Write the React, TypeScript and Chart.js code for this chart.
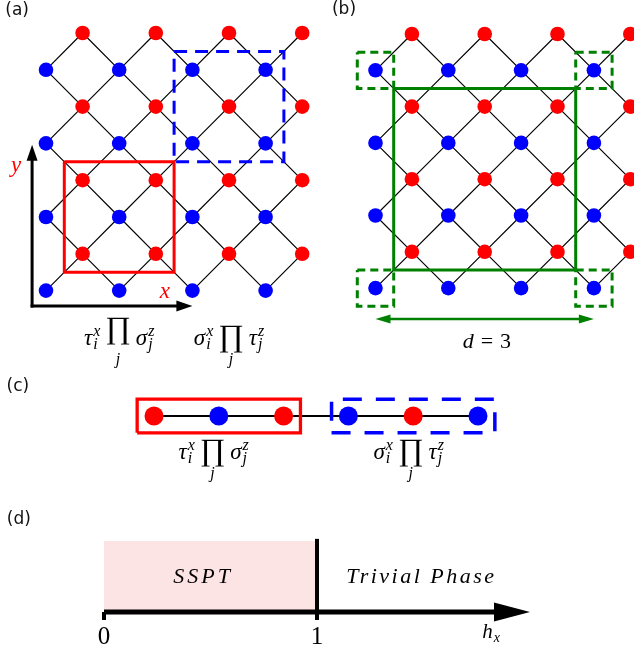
import { useEffect, useRef } from 'react';
import { Chart, registerables } from 'chart.js';

Chart.register(...registerables);

const W = 634;
const H = 651;
const SERIF = "'Liberation Serif', 'DejaVu Serif', serif";
const SANS = "'DejaVu Sans', sans-serif";
const RED = '#ff0000';
const BLUE = '#0000ff';
const GREEN = '#008000';

// (a), (b): checkerboard lattice, sites as column / row indices
const redCols = [1, 3, 5, 7];
const redRows = [0, 2, 4, 6];
const blueCols = [0, 2, 4, 6];
const blueRows = [1, 3, 5, 7];

// boxes [c0, c1, r0, r1] in lattice units
const boxRedA = [0.5, 3.5, 3.5, 6.5];
const boxBlueA = [3.5, 6.5, 0.5, 3.5];
const boxLoopB = [0.5, 5.5, 1.5, 6.5];
const boxCornersB = [
  [-0.5, 0.5, 0.5, 1.5],
  [5.5, 6.5, 0.5, 1.5],
  [-0.5, 0.5, 6.5, 7.5],
  [5.5, 6.5, 6.5, 7.5],
];
const distanceSpan = [0, 6];
const distanceLabel = ['d', '=', '3'];

// (c): 1D chain
const chainRed = [0, 2, 4];
const chainBlue = [1, 3, 5];
const boxRedC = [-0.26, 2.26, -0.26, 0.26];
const boxBlueC = [2.74, 5.26, -0.26, 0.26];

// (d): phase diagram along h_x
const hxTicks = [0, 1];
const hxTickLabels = ['0', '1'];
const hxCritical = 1;
const hxMax = 2;
const phaseNames = ['SSPT', 'Trivial Phase'];

// maps a panel's own units onto the canvas
const across = (origin: number, unit: number, size: number) => ({ min: -origin / unit, max: (size - origin) / unit });
const upward = (origin: number, unit: number, size: number) => ({ min: (origin - size) / unit, max: origin / unit });

const grid = (cols: number[], rows: number[]) => rows.flatMap((r) => cols.map((c) => ({ x: c, y: r })));
const redSites = grid(redCols, redRows);
const blueSites = grid(blueCols, blueRows);

function bonds(red: { x: number; y: number }[], blue: { x: number; y: number }[]) {
  const out: { x: number; y: number }[] = [];
  red.forEach((p) =>
    blue.forEach((q) => {
      if (Math.abs(p.x - q.x) === 1 && Math.abs(p.y - q.y) === 1) out.push(p, q, { x: NaN, y: NaN });
    })
  );
  return out;
}

const rect = (b: number[]) => [
  { x: b[0], y: b[2] },
  { x: b[1], y: b[2] },
  { x: b[1], y: b[3] },
  { x: b[0], y: b[3] },
  { x: b[0], y: b[2] },
];

const siteSet = (p: string, data: any[], color: string, r: number) => ({
  type: 'scatter',
  data,
  xAxisID: 'x' + p,
  yAxisID: 'y' + p,
  pointRadius: r,
  pointBackgroundColor: color,
  pointBorderColor: color,
  pointBorderWidth: 0,
  showLine: false,
  order: 0,
});

const lineSet = (p: string, data: any[], color: string, width: number, dash: number[] = [], order = 1) => ({
  type: 'line',
  data,
  xAxisID: 'x' + p,
  yAxisID: 'y' + p,
  borderColor: color,
  borderWidth: width,
  borderDash: dash,
  pointRadius: 0,
  fill: false,
  spanGaps: false,
  tension: 0,
  order,
});

type Tok = { sym?: string; up?: string; big?: string; sup?: string; sub?: string; under?: string };
const opTauSigma: Tok[] = [{ sym: 'τ', sup: 'x', sub: 'i' }, { big: '∏', under: 'j' }, { sym: 'σ', sup: 'z', sub: 'j' }];
const opSigmaTau: Tok[] = [{ sym: 'σ', sup: 'x', sub: 'i' }, { big: '∏', under: 'j' }, { sym: 'τ', sup: 'z', sub: 'j' }];

function drawMath(ctx: CanvasRenderingContext2D, toks: Tok[], cx: number, base: number, size = 23, gap = 5, color = '#000') {
  const main = `italic ${size}px ${SERIF}`;
  const upright = `${size}px ${SERIF}`;
  const scr = `italic ${Math.round(size * 0.68)}px ${SERIF}`;
  ctx.font = `30px ${SERIF}`;
  const pm = ctx.measureText('∏');
  const k = 28 / (pm.actualBoundingBoxAscent + pm.actualBoundingBoxDescent);
  const bigSize = Math.round(30 * k);
  const bigDesc = (pm.actualBoundingBoxDescent * bigSize) / 30;
  const widths = toks.map((t) => {
    if (t.big) {
      ctx.font = `${bigSize}px ${SERIF}`;
      const w = ctx.measureText(t.big).width;
      ctx.font = scr;
      return Math.max(w, ctx.measureText(t.under || '').width);
    }
    ctx.font = t.up ? upright : main;
    const w = ctx.measureText((t.sym ?? t.up) as string).width;
    ctx.font = scr;
    const ws = Math.max(t.sup ? ctx.measureText(t.sup).width : 0, t.sub ? ctx.measureText(t.sub).width : 0);
    return w + (ws ? ws + 1 : 0);
  });
  const total = widths.reduce((a, b) => a + b, 0) + gap * (toks.length - 1);
  let x = cx - total / 2;
  ctx.fillStyle = color;
  ctx.textBaseline = 'alphabetic';
  toks.forEach((t, i) => {
    if (t.big) {
      ctx.font = `${bigSize}px ${SERIF}`;
      ctx.textAlign = 'center';
      ctx.fillText(t.big, x + widths[i] / 2, base + 8 - bigDesc);
      if (t.under) {
        ctx.font = scr;
        ctx.fillText(t.under, x + widths[i] / 2, base + 19);
      }
    } else {
      ctx.textAlign = 'left';
      ctx.font = t.up ? upright : main;
      const s = (t.sym ?? t.up) as string;
      ctx.fillText(s, x, base);
      const w = ctx.measureText(s).width + 1;
      ctx.font = scr;
      if (t.sup) ctx.fillText(t.sup, x + w, base - 9);
      if (t.sub) ctx.fillText(t.sub, x + w, base + 4);
    }
    x += widths[i] + gap;
  });
}

function drawArrow(
  ctx: CanvasRenderingContext2D,
  x0: number, y0: number, x1: number, y1: number,
  color: string, width: number, len: number, half: number, both: boolean, cap: CanvasLineCap
) {
  const L = Math.hypot(x1 - x0, y1 - y0);
  const ux = (x1 - x0) / L;
  const uy = (y1 - y0) / L;
  ctx.strokeStyle = color;
  ctx.fillStyle = color;
  ctx.lineWidth = width;
  ctx.lineCap = cap;
  ctx.setLineDash([]);
  ctx.beginPath();
  ctx.moveTo(both ? x0 + ux * len * 0.8 : x0, both ? y0 + uy * len * 0.8 : y0);
  ctx.lineTo(x1 - ux * len * 0.8, y1 - uy * len * 0.8);
  ctx.stroke();
  const head = (tx: number, ty: number, dx: number, dy: number) => {
    const bx = tx - dx * len;
    const by = ty - dy * len;
    ctx.beginPath();
    ctx.moveTo(tx, ty);
    ctx.lineTo(bx - dy * half, by + dx * half);
    ctx.lineTo(bx + dy * half, by - dx * half);
    ctx.closePath();
    ctx.fill();
  };
  head(x1, y1, ux, uy);
  if (both) head(x0, y0, -ux, -uy);
}

const overlay = {
  id: 'overlay',
  afterDatasetsDraw(chart: any) {
    const ctx: CanvasRenderingContext2D = chart.ctx;
    const s = chart.scales;
    const P = (p: string, x: number, y: number) => [s['x' + p].getPixelForValue(x), s['y' + p].getPixelForValue(y)];
    ctx.save();

    // panel tags
    ctx.font = `17px ${SANS}`;
    ctx.fillStyle = '#111';
    ctx.textAlign = 'center';
    ctx.textBaseline = 'middle';
    ([['a', -0.79, -0.62, '(a)'], ['b', -0.865, -0.66, '(b)'], ['c', -2.1, 0.46, '(c)'], ['d', -0.4, 1.3, '(d)']] as any[]).forEach(
      ([p, x, y, t]) => {
        const [px, py] = P(p, x, y);
        ctx.fillText(t, px, py);
      }
    );

    // arrows
    let [ax, ay] = P('a', -0.38, 7.42);
    let [bx, by] = P('a', -0.38, 3.04);
    drawArrow(ctx, ax, ay, bx, by, '#000', 3, 16, 5.5, false, 'square');
    [bx, by] = P('a', 4.0, 7.42);
    drawArrow(ctx, ax, ay, bx, by, '#000', 3, 16, 5.5, false, 'square');
    [ax, ay] = P('b', distanceSpan[0], 7.85);
    [bx, by] = P('b', distanceSpan[1], 7.85);
    drawArrow(ctx, ax, ay, bx, by, GREEN, 2.6, 15, 4.5, true, 'butt');
    [ax, ay] = P('d', hxTicks[0], 0);
    [bx, by] = P('d', hxMax, 0);
    drawArrow(ctx, ax, ay, bx, by, '#000', 5, 36, 9.5, false, 'butt');

    // axis letters in (a)
    ctx.font = `italic 23px ${SERIF}`;
    ctx.fillStyle = RED;
    ctx.textAlign = 'center';
    ctx.textBaseline = 'middle';
    let [tx, ty] = P('a', -0.82, 3.6);
    ctx.fillText('y', tx, ty);
    [tx, ty] = P('a', 3.25, 7.05);
    ctx.fillText('x', tx, ty);

    // operators
    [tx, ty] = P('a', 2, 8.48);
    drawMath(ctx, opTauSigma, tx, ty);
    [tx, ty] = P('a', 5, 8.48);
    drawMath(ctx, opSigmaTau, tx, ty);
    [tx, ty] = P('c', 0.92, -0.66);
    drawMath(ctx, opTauSigma, tx, ty);
    [tx, ty] = P('c', 3.93, -0.66);
    drawMath(ctx, opSigmaTau, tx, ty);
    [tx, ty] = P('b', 3.06, 8.65);
    drawMath(ctx, [{ sym: distanceLabel[0] }, { up: distanceLabel[1] }, { up: distanceLabel[2] }], tx, ty, 22, 7);

    // (d) texts
    [tx, ty] = P('d', 1.817, -0.366);
    drawMath(ctx, [{ sym: 'h', sub: 'x' }], tx, ty, 21);
    ctx.font = `25px ${SERIF}`;
    ctx.fillStyle = '#000';
    ctx.textAlign = 'center';
    ctx.textBaseline = 'alphabetic';
    hxTicks.forEach((h, i) => {
      const [px, py] = P('d', h, -0.45);
      ctx.fillText(hxTickLabels[i], px, py);
    });
    ctx.font = `italic 22px ${SERIF}`;
    (ctx as any).letterSpacing = '3px';
    [tx, ty] = P('d', 0.465, 0.41);
    ctx.fillText(phaseNames[0], tx, ty);
    (ctx as any).letterSpacing = '2.5px';
    [tx, ty] = P('d', 1.49, 0.41);
    ctx.fillText(phaseNames[1], tx, ty);
    (ctx as any).letterSpacing = '0px';

    ctx.restore();
  },
};

const datasets: any[] = [
  // (a)
  siteSet('a', redSites, RED, 7.3),
  siteSet('a', blueSites, BLUE, 7.3),
  lineSet('a', rect(boxRedA), RED, 3),
  lineSet('a', rect(boxBlueA), BLUE, 3, [13, 8]),
  lineSet('a', bonds(redSites, blueSites), '#000', 1.2, [], 3),
  // (b)
  siteSet('b', redSites, RED, 7.3),
  siteSet('b', blueSites, BLUE, 7.3),
  lineSet('b', rect(boxLoopB), GREEN, 3),
  ...boxCornersB.map((b) => lineSet('b', rect(b), GREEN, 3, [8, 5])),
  lineSet('b', bonds(redSites, blueSites), '#000', 1.2, [], 3),
  // (c)
  siteSet('c', chainRed.map((x) => ({ x, y: 0 })), RED, 9.5),
  siteSet('c', chainBlue.map((x) => ({ x, y: 0 })), BLUE, 9.5),
  lineSet('c', rect(boxRedC), RED, 3.3),
  lineSet('c', rect(boxBlueC), BLUE, 3.5, [19, 14]),
  lineSet('c', [{ x: chainRed[0], y: 0 }, { x: chainBlue[chainBlue.length - 1], y: 0 }], '#000', 2, [], 3),
  // (d)
  lineSet('d', [{ x: hxCritical, y: -0.113 }, { x: hxCritical, y: 1.03 }], '#000', 4),
  lineSet('d', [{ x: hxTicks[0], y: 0 }, { x: hxTicks[0], y: -0.113 }], '#000', 4),
  {
    ...lineSet('d', [{ x: hxTicks[0], y: 1 }, { x: hxCritical, y: 1 }], 'rgba(0,0,0,0)', 0, [], 5),
    fill: 'origin',
    backgroundColor: '#fde4e4',
  },
];

const hidden = { type: 'linear', display: false };

export default function App() {
  const canvasRef = useRef<HTMLCanvasElement>(null);

  useEffect(() => {
    if (!canvasRef.current) return;
    const chart = new Chart(canvasRef.current, {
      type: 'scatter',
      data: { datasets },
      options: {
        animation: false,
        responsive: false,
        events: [],
        layout: { padding: 0, autoPadding: false },
        plugins: { legend: { display: false }, tooltip: { enabled: false } },
        scales: {
          x: { ...hidden },
          y: { ...hidden },
          xa: { ...hidden, axis: 'x', position: 'bottom', ...across(46, 36.6, W) },
          ya: { ...hidden, axis: 'y', position: 'left', reverse: true, ...across(33, 36.8, H) },
          xb: { ...hidden, axis: 'x', position: 'bottom', ...across(375.5, 36.4, W) },
          yb: { ...hidden, axis: 'y', position: 'left', reverse: true, ...across(34, 36.3, H) },
          xc: { ...hidden, axis: 'x', position: 'bottom', ...across(154, 64.8, W) },
          yc: { ...hidden, axis: 'y', position: 'left', ...upward(416, 64.8, H) },
          xd: { ...hidden, axis: 'x', position: 'bottom', ...across(104, 213, W) },
          yd: { ...hidden, axis: 'y', position: 'left', ...upward(612, 71, H) },
        },
      } as any,
      plugins: [overlay],
    });
    return () => chart.destroy();
  }, []);

  return (
    <div style={{ position: 'absolute', left: 0, top: 0, width: W, height: H, background: '#fff' }}>
      <canvas ref={canvasRef} width={W} height={H} style={{ display: 'block' }} />
    </div>
  );
}
